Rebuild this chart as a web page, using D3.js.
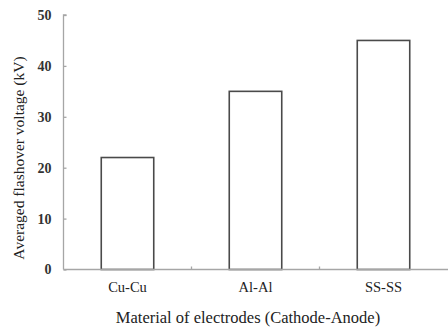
<!DOCTYPE html>
<html><head><meta charset="utf-8">
<script src="https://cdn.jsdelivr.net/npm/d3@7"></script>
<style>body{margin:0;background:#fff}svg{display:block}</style>
</head><body>
<script>
const categories = ["Cu-Cu", "Al-Al", "SS-SS"];
const values = [22, 35, 45];
const yTicks = [0, 10, 20, 30, 40, 50];
const yTitle = "Averaged flashover voltage (kV)";
const xTitle = "Material of electrodes (Cathode-Anode)";

const W = 448, H = 334;
const m = {l: 63.5, r: 0.5, t: 15, b: 64.5};
const svg = d3.select("body").append("svg").attr("width", W).attr("height", H);
const x = d3.scaleBand().domain(categories).range([m.l, W - m.r]).paddingInner(0.59).paddingOuter(0.295);
const y = d3.scaleLinear().domain([0, 50]).range([H - m.b, m.t]);
const axisCol = "#a6a6a6";
const font = "'Liberation Serif', 'Times New Roman', serif";

// bars
svg.selectAll("rect.bar").data(values).join("rect")
  .attr("class", "bar")
  .attr("x", (d, i) => x(categories[i]))
  .attr("y", d => y(d))
  .attr("width", x.bandwidth())
  .attr("height", d => y(0) - y(d))
  .attr("fill", "#fff").attr("stroke", "#4a4a4a").attr("stroke-width", 1.6);

// y axis
const ya = svg.append("g").attr("transform", `translate(${m.l},0)`)
  .call(d3.axisRight(y).tickValues(yTicks).tickSize(3).tickFormat(""));
ya.select(".domain").attr("stroke", axisCol).attr("stroke-width", 1.3).attr("d", `M3,${y(50)}H0V${y(0)}`);
ya.selectAll(".tick line").attr("stroke", axisCol).attr("stroke-width", 1.3);
svg.append("g").selectAll("text").data(yTicks).join("text")
  .attr("x", m.l - 12).attr("y", d => y(d)).attr("dy", "0.35em")
  .attr("text-anchor", "end").attr("font-family", font).attr("font-weight", "bold")
  .attr("font-size", 14).attr("fill", "#333").text(d => d);

// x axis
const step = x.step();
const bounds = categories.slice(1).map(c => x(c) - step * x.paddingInner() / 2);
const xa = svg.append("g");
xa.append("line").attr("x1", m.l).attr("x2", W).attr("y1", y(0)).attr("y2", y(0))
  .attr("stroke", axisCol).attr("stroke-width", 1.5);
xa.selectAll("line.tk").data(bounds).join("line").attr("class", "tk")
  .attr("x1", d => d).attr("x2", d => d).attr("y1", y(0)).attr("y2", y(0) - 3)
  .attr("stroke", axisCol).attr("stroke-width", 1.3);
xa.selectAll("text").data(categories).join("text")
  .attr("x", d => x(d) + x.bandwidth() / 2).attr("y", 292)
  .attr("text-anchor", "middle").attr("font-family", font).attr("font-size", 14.5)
  .attr("fill", "#222").text(d => d);

// titles
svg.append("text").attr("x", 248).attr("y", 323)
  .attr("text-anchor", "middle").attr("font-family", font).attr("font-size", 16.5)
  .attr("fill", "#222").text(xTitle);
svg.append("text").attr("transform", `translate(24,158) rotate(-90)`)
  .attr("text-anchor", "middle").attr("font-family", font).attr("font-size", 15.5)
  .attr("fill", "#222").text(yTitle);
</script>
</body></html>
